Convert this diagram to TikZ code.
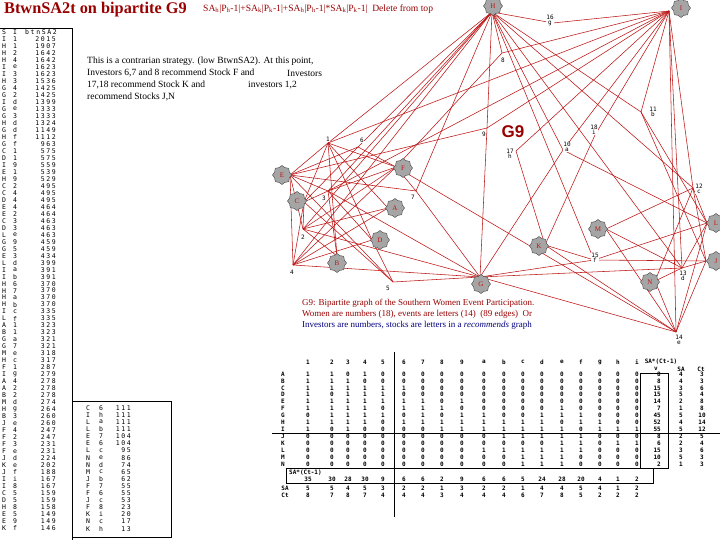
\documentclass[tikz,border=0pt]{standalone}
\usepackage{fontspec}
\setmainfont{Liberation Serif}
\newfontfamily\pix{DejaVu Sans Mono}
\newfontfamily\pixw[LetterSpace=25]{DejaVu Sans Mono}
\newfontfamily\gsans{Liberation Sans}
\usetikzlibrary{shapes.geometric}
\definecolor{edgered}{RGB}{190,20,20}
\definecolor{darkred}{RGB}{153,0,0}
\definecolor{capblue}{RGB}{0,0,128}
\definecolor{stockgray}{RGB}{165,165,165}
\begin{document}
\begin{tikzpicture}[x=1pt,y=-1pt,
  edge/.style={draw=edgered,line width=0.55pt},
  stock/.style={star,star points=8,star point ratio=1.2,minimum size=19pt,inner sep=0pt,
    fill=stockgray,draw=black!70,line width=0.45pt,font=\fontsize{7}{7}\selectfont,text=edgered},
  invlab/.style={font=\pix\fontsize{6}{6.5}\selectfont,fill=white,inner sep=0.5pt,align=center},
  cell/.style={font=\pix\bfseries\fontsize{6}{6}\selectfont,inner sep=0pt},
  lst/.style={font=\pixw\fontsize{6.5}{6.5}\selectfont,inner sep=0pt},
  para/.style={font=\fontsize{9.5}{9.5}\selectfont,inner sep=0pt,anchor=west},
  captext/.style={font=\fontsize{9}{9}\selectfont,inner sep=0pt,anchor=west}]
\useasboundingbox[fill=white] (0,0) rectangle (720,540);

% ---------- title ----------
\node[anchor=west,inner sep=0pt,text=darkred,font=\bfseries\fontsize{16.3}{16}\selectfont] (title) at (4,10) {BtwnSA2t on bipartite G9};
\node[anchor=west,inner sep=0pt,text=darkred,font=\fontsize{9.6}{9.6}\selectfont] (formula) at (203,9)
 {SA\textsubscript{h}|P\textsubscript{h}-1|+SA\textsubscript{k}|P\textsubscript{k}-1|+SA\textsubscript{h}|P\textsubscript{h}-1|*SA\textsubscript{k}|P\textsubscript{k}-1|\ \ Delete from top};

% ---------- paragraph ----------
\node[para] (p1) at (87,61) {This is a contrarian strategy. (low BtwnSA2). At this point,};
\node[para] (p2) at (87,73) {Investors 6,7 and 8 recommend Stock F and};
\node[para] (p2b) at (287,73) {Investors};
\node[para] (p3) at (87,85) {17,18 recommend Stock K and};
\node[para] (p3b) at (248,85) {investors 1,2};
\node[para] (p4) at (87,97) {recommend Stocks J,N};

% ---------- left lists ----------
\draw[line width=0.6pt] (0,28) -- (72,28) -- (72,540);
\draw[line width=0.6pt] (72,401) -- (171,401) -- (171,537) -- (72,537);
\node[lst] (lh1) at (4,32) {S};
\node[lst] (lh2) at (15,32) {I};
\node[lst,anchor=east] (lh3) at (57,32) {btnSA2};
\foreach \a/\b/\c [count=\k from 1] in {I/1/2015,H/1/1907,H/2/1642,H/4/1642,I/e/1623,I/3/1623,H/3/1536,G/4/1425,G/2/1425,I/d/1399,G/e/1333,G/3/1333,H/d/1324,G/d/1149,H/f/1112,G/f/963,C/1/575,D/1/575,I/9/559,E/1/539,H/9/529,C/2/495,C/4/495,D/4/495,E/4/464,E/2/464,C/3/463,D/3/463,L/e/463,G/9/459,G/5/459,E/3/434,L/d/399,I/a/391,I/b/391,H/6/370,H/7/370,H/a/370,H/b/370,I/c/335,L/f/335,A/1/323,B/1/323,G/a/321,G/7/321,M/e/318,H/c/317,F/1/287,I/g/279,A/4/278,A/2/278,B/2/278,M/d/274,H/g/264,B/3/260,J/e/260,F/4/247,F/2/247,F/3/231,F/e/231,J/d/224,K/e/202,J/f/188,I/i/167,I/8/167,C/5/159,D/5/159,H/8/158,E/5/149,E/9/149,K/f/146}{
  \pgfmathsetmacro\yy{32+6.99*\k}
  \node[lst] (la\k) at (4,\yy) {\a};
  \node[lst] (lb\k) at (15,\yy) {\b};
  \node[lst,anchor=east] (lc\k) at (56,\yy) {\c};
}
\foreach \a/\b/\c [count=\k from 0] in {C/6/111,I/h/111,L/a/111,L/b/111,E/7/104,E/6/104,L/c/95,N/e/86,N/d/74,M/c/65,J/b/62,F/7/55,F/6/55,J/c/53,F/8/23,K/i/20,N/c/17,K/h/13}{
  \pgfmathsetmacro\yy{408+7.1*\k}
  \node[lst] (ma\k) at (88,\yy) {\a};
  \node[lst] (mb\k) at (101,\yy) {\b};
  \node[lst,anchor=east] (mc\k) at (131,\yy) {\c};
}

% ---------- graph coordinates ----------
\coordinate (sH) at (492,12);  \coordinate (sI) at (669,11);
\coordinate (sE) at (290,175); \coordinate (sF) at (396,167);
\coordinate (sC) at (304,202); \coordinate (sA) at (388,208);
\coordinate (sD) at (372,240); \coordinate (sB) at (337,256);
\coordinate (sG) at (480,277); \coordinate (sK) at (545,245);
\coordinate (sM) at (606,229); \coordinate (sN) at (655,281);
\coordinate (sL) at (707,223); \coordinate (sJ) at (706,261);

\coordinate (v1) at (328,143);  \coordinate (v2) at (303,229);
\coordinate (v3) at (328,191);  \coordinate (v4) at (293,265);
\coordinate (v5) at (393,282);  \coordinate (v6) at (358,147);
\coordinate (v7) at (416,191);  \coordinate (v8) at (502,53);
\coordinate (v9) at (487,128);  \coordinate (v10) at (563,150);
\coordinate (v11) at (641,112); \coordinate (v12) at (693,188);
\coordinate (v13) at (682,268); \coordinate (v14) at (676,332);
\coordinate (v15) at (594,260); \coordinate (v16) at (553,23);
\coordinate (v17) at (516,151); \coordinate (v18) at (595,135);

% ---------- edges ----------
\foreach \s/\l in {A/{1,2,4},B/{1,2,3},C/{1,2,3,4,5,6},D/{1,3,4,5},E/{1,2,3,4,5,6,7,9},
  F/{1,2,3,4,6,7,8,14},G/{2,3,4,5,7,9,10,13,14,15},H/{1,2,3,4,6,7,8,9,10,11,12,13,15,16},
  I/{1,3,8,9,10,11,12,13,14,16,17,18},J/{11,12,13,14,15},K/{14,15,17,18},
  L/{10,11,12,13,14,15},M/{12,13,14},N/{12,13,14}}{
  \foreach \i in \l { \draw[edge] (s\s) -- (v\i); }
}

% ---------- stock icons ----------
\foreach \s/\x/\y in {H/493/6,I/681/8,E/282/175,F/403/168,C/297/201,A/395/208,D/380/240,
  B/337/263,G/481/284,K/539/246,M/598/229,N/650/282,L/716/223,J/716/261}{
  \node[stock] (ic\s) at (\x,\y) {\s};
}

% ---------- investor labels ----------
\node[invlab] (t1) at (328,139) {1};
\node[invlab] (t2) at (303,237) {2};
\node[invlab] (t3) at (324,198) {3};
\node[invlab] (t4) at (292,272) {4};
\node[invlab] (t5) at (388,288) {5};
\node[invlab] (t6) at (362,140) {6};
\node[invlab] (t7) at (413,197) {7};
\node[invlab] (t8) at (503,60) {8};
\node[invlab] (t9) at (484,134) {9};
\node[invlab] (t10) at (567,147) {10\\[-1.5pt]a};
\node[invlab] (t11) at (653,112) {11\\[-1.5pt]b};
\node[invlab] (t12) at (699,189) {12\\[-1.5pt]c};
\node[invlab] (t13) at (683,276) {13\\[-1.5pt]d};
\node[invlab] (t14) at (679,340) {14\\[-1.5pt]e};
\node[invlab] (t15) at (595,258) {15\\[-1.5pt]f};
\node[invlab] (t16) at (550,20) {16\\[-1.5pt]g};
\node[invlab] (t17) at (510,154) {17\\[-1.5pt]h};
\node[invlab] (t18) at (594,130) {18\\[-1.5pt]i};

\node[text=darkred,inner sep=0pt,font=\gsans\bfseries\fontsize{17}{17}\selectfont] (g9) at (513,132) {G9};

% ---------- caption ----------
\node[captext,text=darkred] (c1) at (302,303) {G9: Bipartite graph of the Southern Women Event Participation.};
\node[captext,text=darkred] (c2) at (302,314) {Women are numbers (18), events are letters (14)\ \ (89 edges)\ \ Or};
\node[captext,text=capblue] (c3) at (302,325) {Investors are numbers, stocks are letters in a \textit{recommends} graph};

% ---------- matrix ----------
\draw[line width=0.6pt] (394,352) -- (394,517);
\draw[line width=0.6pt] (272,433) -- (720,433);
\draw[line width=0.6pt] (640,373) rectangle (668,468);
\draw[line width=0.6pt] (286,468) rectangle (653,483);
\foreach \h [count=\c from 0] in {1,2,3,4,5,6,7,8,9,a,b,c,d,e,f,g,h,i}{
  \pgfmathsetmacro\xx{{308,332,348,365,383,404,423,442,462,484,504,523,542,562,581,600,618,637}[\c]}
  \node[cell] (hd\c) at (\xx,362) {\h};
}
\node[cell] (hsa) at (661,362) {SA*(Ct-1)};
\node[cell] (hv) at (656,369) {v};
\node[cell] (hs) at (681,369) {SA};
\node[cell] (hc) at (701,369) {Ct};
\foreach \r/\vals/\v/\sa/\ct [count=\k from 0] in {
  A/{1,1,0,1,0,0,0,0,0,0,0,0,0,0,0,0,0,0}/8/4/3,
  B/{1,1,1,0,0,0,0,0,0,0,0,0,0,0,0,0,0,0}/8/4/3,
  C/{1,1,1,1,1,1,0,0,0,0,0,0,0,0,0,0,0,0}/15/3/6,
  D/{1,0,1,1,1,0,0,0,0,0,0,0,0,0,0,0,0,0}/15/5/4,
  E/{1,1,1,1,1,1,1,0,1,0,0,0,0,0,0,0,0,0}/14/2/8,
  F/{1,1,1,1,0,1,1,1,0,0,0,0,0,1,0,0,0,0}/7/1/8,
  G/{0,1,1,1,1,0,1,0,1,1,0,0,1,1,1,0,0,0}/45/5/10,
  H/{1,1,1,1,0,1,1,1,1,1,1,1,1,0,1,1,0,0}/52/4/14,
  I/{1,0,1,0,0,0,0,1,1,1,1,1,1,1,0,1,1,1}/55/5/12,
  J/{0,0,0,0,0,0,0,0,0,0,1,1,1,1,1,0,0,0}/8/2/5,
  K/{0,0,0,0,0,0,0,0,0,0,0,0,0,1,1,0,1,1}/6/2/4,
  L/{0,0,0,0,0,0,0,0,0,1,1,1,1,1,1,0,0,0}/15/3/6,
  M/{0,0,0,0,0,0,0,0,0,0,0,1,1,1,0,0,0,0}/10/5/3,
  N/{0,0,0,0,0,0,0,0,0,0,0,1,1,1,0,0,0,0}/2/1/3}{
  \pgfmathsetmacro\yy{374+6.93*\k}
  \node[cell] (rl\k) at (283,\yy) {\r};
  \foreach \b [count=\c from 0] in \vals {
    \pgfmathsetmacro\xx{{308,332,348,365,383,404,423,442,462,484,504,523,542,562,581,600,618,637}[\c]}
    \node[cell] (m\k-\c) at (\xx,\yy) {\b};
  }
  \node[cell,anchor=east] (rv\k) at (661,\yy) {\v};
  \node[cell] (rs\k) at (681,\yy) {\sa};
  \node[cell] (rc\k) at (702,\yy) {\ct};
}
\node[cell,anchor=west] (bl) at (289,473) {SA*(Ct-1)};
\node[cell] (bsa) at (285,488) {SA};
\node[cell] (bct) at (285,495) {Ct};
\foreach \p/\q/\w [count=\c from 0] in {35/5/8,30/5/7,28/4/8,30/5/7,9/3/4,6/2/4,6/2/4,2/1/3,9/3/4,6/2/4,6/2/4,5/1/6,24/4/7,28/4/8,20/5/5,4/4/2,1/1/2,2/2/2}{
  \pgfmathsetmacro\xx{{308,332,348,365,383,404,423,442,462,484,504,523,542,562,581,600,618,637}[\c]}
  \node[cell] (bp\c) at (\xx,479.5) {\p};
  \node[cell] (bq\c) at (\xx,488) {\q};
  \node[cell] (bw\c) at (\xx,495) {\w};
}
\end{tikzpicture}
\end{document}
